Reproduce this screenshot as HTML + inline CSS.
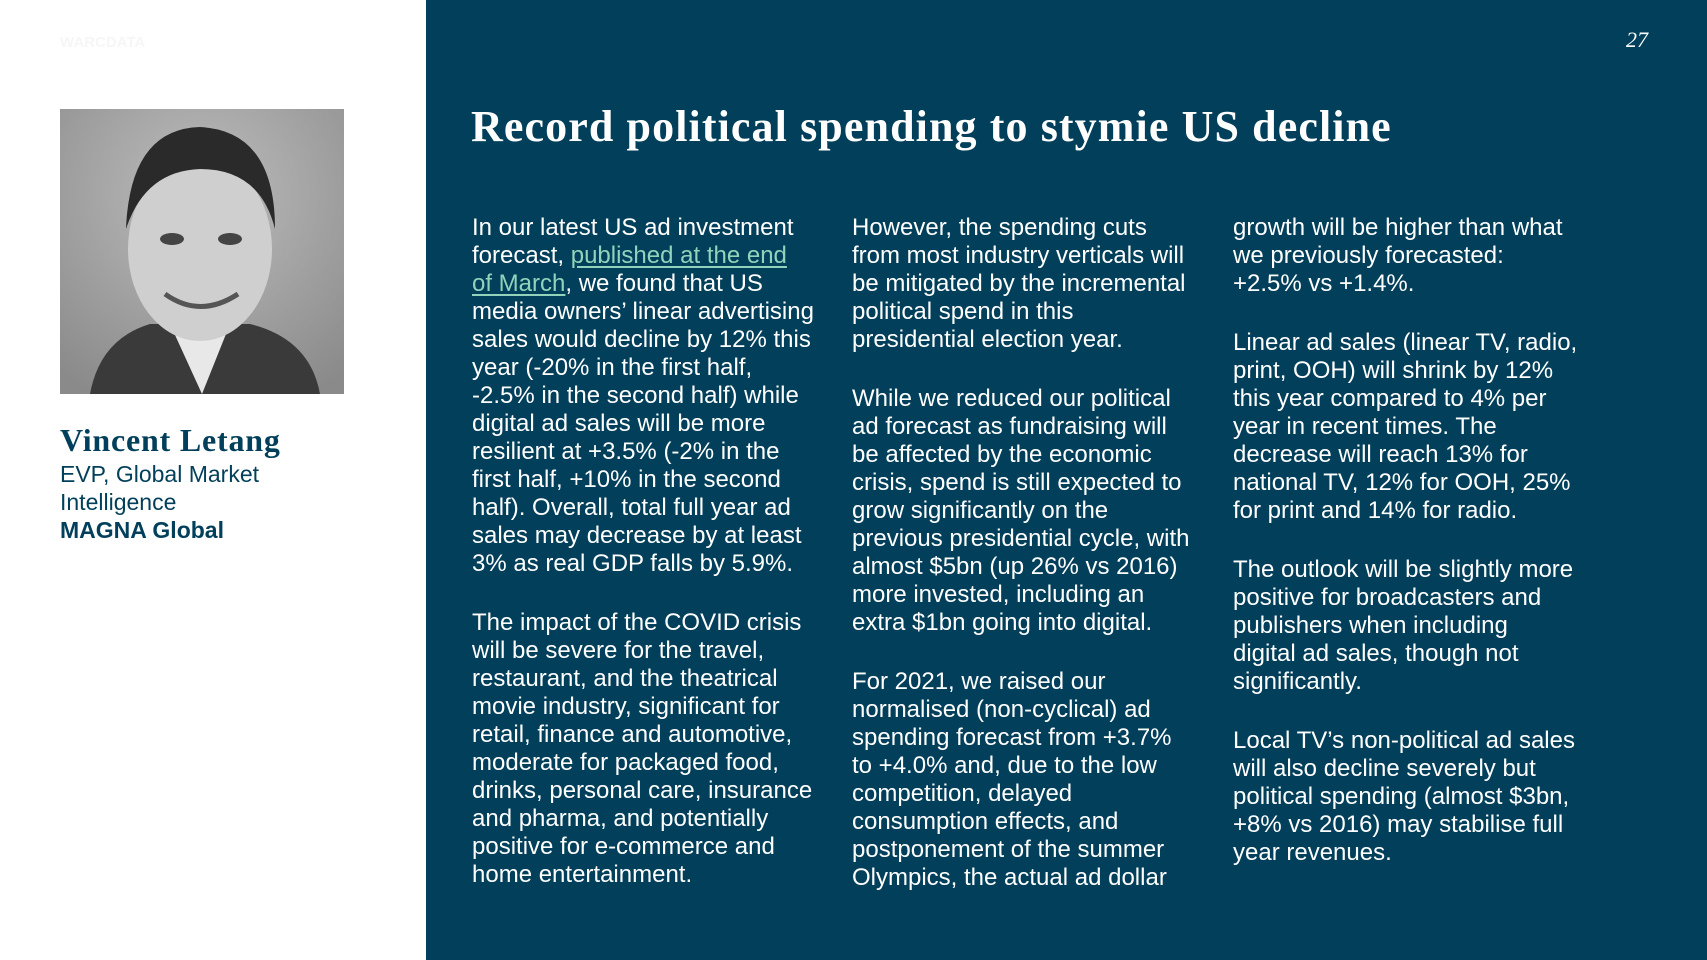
<!DOCTYPE html>
<html><head><meta charset="utf-8"><style>
body{margin:0;width:1707px;height:960px;overflow:hidden;background:#fff;font-family:"Liberation Sans",sans-serif;position:relative}
.panel{position:absolute;left:426px;top:0;width:1281px;height:960px;background:#013f5a}
.col{position:absolute;top:214px;color:#fff;font-size:24px;line-height:28px;white-space:nowrap;letter-spacing:0}
.col div{height:28px}
.col .gap{height:31px}
a{color:#92d3bb;text-decoration:underline;text-underline-offset:3px}
.title{position:absolute;left:471px;top:101px;color:#fff;font-family:"Liberation Serif",serif;font-weight:bold;font-size:44px;letter-spacing:1.1px;white-space:nowrap}
.pg{position:absolute;left:1626px;top:27px;color:#fff;font-family:"Liberation Serif",serif;font-style:italic;font-size:22px}
.name{position:absolute;left:60px;top:422px;color:#013f5a;font-family:"Liberation Serif",serif;font-weight:bold;font-size:32px;letter-spacing:0.8px}
.role{position:absolute;left:60px;top:460px;color:#013f5a;font-size:23px;line-height:28px}
</style></head><body>
<div class="panel"></div>
<div style="position:absolute;left:60px;top:34px;color:#f6f6f6;font-size:15px;font-weight:bold">WARCDATA</div>
<svg style="position:absolute;left:60px;top:109px" width="284" height="285">
<defs><radialGradient id="bg" cx="0.5" cy="0.3" r="0.8"><stop offset="0" stop-color="#bdbdbd"/><stop offset="1" stop-color="#8a8a8a"/></radialGradient></defs>
<rect width="284" height="285" fill="url(#bg)"/>
<path d="M30 285 Q40 230 90 215 L190 215 Q250 230 260 285Z" fill="#3a3a3a"/>
<path d="M110 215 L142 285 L170 215Z" fill="#e8e8e8"/>
<ellipse cx="140" cy="140" rx="72" ry="92" fill="#cfcfcf"/>
<path d="M66 120 Q70 20 140 18 Q215 22 215 120 Q200 60 140 60 Q85 62 66 120Z" fill="#2a2a2a"/>
<ellipse cx="112" cy="130" rx="12" ry="6" fill="#444"/><ellipse cx="170" cy="130" rx="12" ry="6" fill="#444"/>
<path d="M105 185 Q140 210 178 185" stroke="#555" stroke-width="5" fill="none"/>
</svg>
<div class="name">Vincent Letang</div>
<div class="role">EVP, Global Market<br>Intelligence<br><b>MAGNA Global</b></div>
<div class="pg">27</div>
<div class="title">Record political spending to stymie US decline</div>
<div class="col" style="left:472px">
<div>In our latest US ad investment</div>
<div>forecast, <a>published at the end</a></div>
<div><a>of March</a>, we found that US</div>
<div>media owners’ linear advertising</div>
<div>sales would decline by 12% this</div>
<div>year (-20% in the first half,</div>
<div>-2.5% in the second half) while</div>
<div>digital ad sales will be more</div>
<div>resilient at +3.5% (-2% in the</div>
<div>first half, +10% in the second</div>
<div>half). Overall, total full year ad</div>
<div>sales may decrease by at least</div>
<div>3% as real GDP falls by 5.9%.</div>
<div class="gap"></div>
<div>The impact of the COVID crisis</div>
<div>will be severe for the travel,</div>
<div>restaurant, and the theatrical</div>
<div>movie industry, significant for</div>
<div>retail, finance and automotive,</div>
<div>moderate for packaged food,</div>
<div>drinks, personal care, insurance</div>
<div>and pharma, and potentially</div>
<div>positive for e-commerce and</div>
<div>home entertainment.</div>
</div>
<div class="col" style="left:852px">
<div>However, the spending cuts</div>
<div>from most industry verticals will</div>
<div>be mitigated by the incremental</div>
<div>political spend in this</div>
<div>presidential election year.</div>
<div class="gap"></div>
<div>While we reduced our political</div>
<div>ad forecast as fundraising will</div>
<div>be affected by the economic</div>
<div>crisis, spend is still expected to</div>
<div>grow significantly on the</div>
<div>previous presidential cycle, with</div>
<div>almost $5bn (up 26% vs 2016)</div>
<div>more invested, including an</div>
<div>extra $1bn going into digital.</div>
<div class="gap"></div>
<div>For 2021, we raised our</div>
<div>normalised (non-cyclical) ad</div>
<div>spending forecast from +3.7%</div>
<div>to +4.0% and, due to the low</div>
<div>competition, delayed</div>
<div>consumption effects, and</div>
<div>postponement of the summer</div>
<div>Olympics, the actual ad dollar</div>
</div>
<div class="col" style="left:1233px">
<div>growth will be higher than what</div>
<div>we previously forecasted:</div>
<div>+2.5% vs +1.4%.</div>
<div class="gap"></div>
<div>Linear ad sales (linear TV, radio,</div>
<div>print, OOH) will shrink by 12%</div>
<div>this year compared to 4% per</div>
<div>year in recent times. The</div>
<div>decrease will reach 13% for</div>
<div>national TV, 12% for OOH, 25%</div>
<div>for print and 14% for radio.</div>
<div class="gap"></div>
<div>The outlook will be slightly more</div>
<div>positive for broadcasters and</div>
<div>publishers when including</div>
<div>digital ad sales, though not</div>
<div>significantly.</div>
<div class="gap"></div>
<div>Local TV’s non-political ad sales</div>
<div>will also decline severely but</div>
<div>political spending (almost $3bn,</div>
<div>+8% vs 2016) may stabilise full</div>
<div>year revenues.</div>
</div>
</body></html>
